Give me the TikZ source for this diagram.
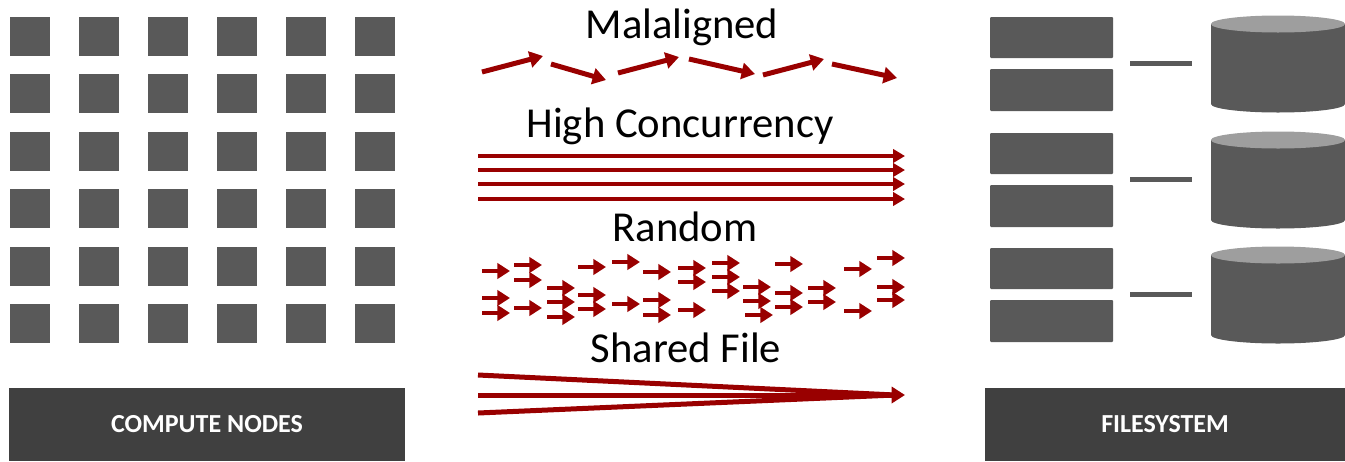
\documentclass[tikz,border=0pt]{standalone}
\usepackage{fontspec}
\setmainfont{Carlito}
\usetikzlibrary{arrows.meta}

\definecolor{boxgray}{RGB}{89,89,89}
\definecolor{bargray}{RGB}{64,64,64}
\definecolor{topgray}{RGB}{158,158,158}
\definecolor{ioRed}{RGB}{153,0,0}

\tikzset{every picture/.style={line width=0.75pt}}
\tikzset{
	cnode/.style={fill=boxgray},
	srv/.style={fill=boxgray, rounded corners=0.75pt},
	bar/.style={fill=bargray},
	link/.style={draw=boxgray, line width=3.75pt},
	title/.style={anchor=base, font=\fontsize{32}{38}\selectfont},
	barlabel/.style={text=white, font=\fontsize{19.5}{23}\selectfont\bfseries},
	bigarrow/.style={draw=ioRed, line width=3.75pt, -{Triangle[length=10pt,width=12pt]}},
	flow/.style={draw=ioRed, line width=3pt, -{Triangle[length=9pt,width=10pt]}},
	tinyarrow/.style={draw=ioRed, line width=3.2pt, -{Triangle[length=9.5pt,width=11.5pt]}}
}

\begin{document}
\begin{tikzpicture}[x=0.75pt,y=0.75pt,yscale=-1,xscale=1]
	\useasboundingbox (0,0) rectangle (1345,461);

	%Shape: Grid of compute nodes
	\foreach \i in {0,...,5}
		\foreach \j in {0,...,5}
			\fill [cnode] ({10+69*\i},{17+57.4*\j}) rectangle ++(40,39);

	%Shape: Rectangle [compute bar]
	\fill [bar] (9,388) rectangle (405,461);
	% Text Node
	\node [barlabel] (computelbl) at (207,424) {COMPUTE NODES};

	%Shape: Rectangle [filesystem bar]
	\fill [bar] (985,388) rectangle (1345,461);
	% Text Node
	\node [barlabel] (fslbl) at (1165,424) {FILESYSTEM};

	%Shape: Servers and disks
	\foreach \d/\k in {0/1,116/2,231/3} {
		\fill [srv] (990,{17+\d}) rectangle (1113,{58+\d});
		\fill [srv] (990,{69+\d}) rectangle (1113,{111+\d});
		\coordinate (pair\k) at (1113,{63+\d});
		\coordinate (disk\k) at (1211,{63+\d});
		\fill [boxgray] (1211,{24+\d}) -- (1211,{104+\d}) arc [start angle=180, end angle=0, x radius=67, y radius=8.5] -- (1345,{24+\d}) -- cycle;
		\fill [topgray] (1278,{24+\d}) ellipse [x radius=67, y radius=8.5];
		\draw [link, shorten <=17pt*0.75, shorten >=19pt*0.75] (pair\k) -- (disk\k);
	}

	% Text Node
	\node [title] (maltxt) at (682,38) {Malaligned};
	%Straight Lines [malaligned]
	\draw [bigarrow] (482,72) -- (543,56);
	\draw [bigarrow] (551,64) -- (606,80);
	\draw [bigarrow] (618,73) -- (679,57);
	\draw [bigarrow] (689,59) -- (755,74);
	\draw [bigarrow] (763,75) -- (824,59);
	\draw [bigarrow] (832,64) -- (897,78);

	% Text Node
	\node [title] (hightxt) at (680,137) {High Concurrency};
	%Straight Lines [high concurrency]
	\foreach \y in {156,170,184,199}
		\draw [flow] (478,\y) -- (905,\y);

	% Text Node
	\node [title] (randtxt) at (685,241) {Random};
	%Straight Lines [random]
	\foreach \x/\y in {482/271,482/298,482/313,514/265,514/280,514/308,547/288,547/302,547/317,
		578/267,578/295,578/309,612/262,612/304,643/272,643/300,643/315,678/268,678/282,678/310,
		712/263,712/277,712/291,743/287,743/301,745/315,775/264,775/293,775/307,808/288,808/302,
		844/269,844/311,877/258,877/287,877/300}
		\draw [tinyarrow] (\x,\y) -- ++(28,0);

	% Text Node
	\node [title] (sharedtxt) at (686,362) {Shared File};
	%Straight Lines [shared file]
	\draw [ioRed, line width=3.75pt] (478,375) -- (895,395);
	\draw [ioRed, line width=3.75pt] (478,413) -- (895,395);
	\draw [bigarrow] (478,395) -- (905,395);

\end{tikzpicture}
\end{document}
